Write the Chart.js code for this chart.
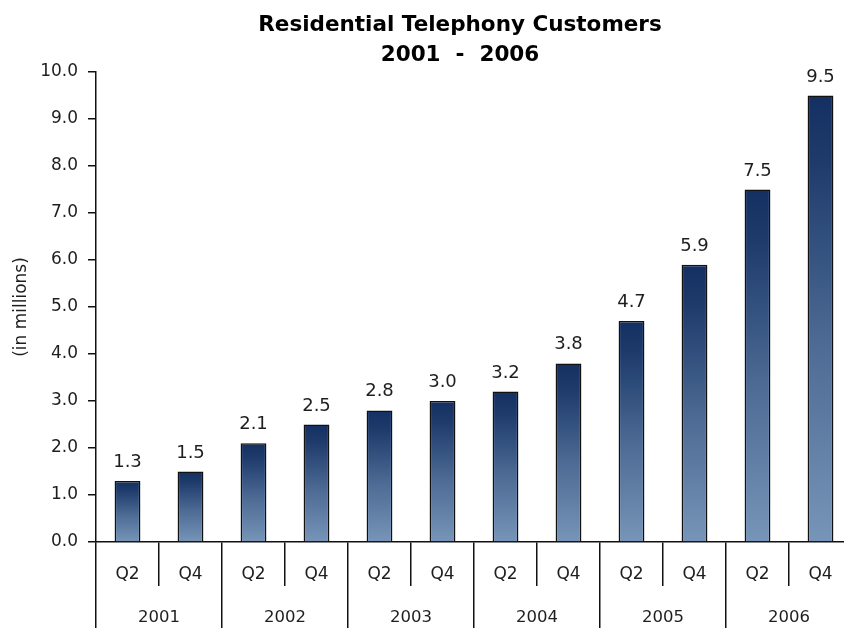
<!DOCTYPE html>
<html>
<head>
<meta charset="utf-8">
<title>Residential Telephony Customers</title>
<script src="https://cdn.jsdelivr.net/npm/chart.js@4.4.1/dist/chart.umd.min.js"></script>
<style>
  html, body { margin: 0; padding: 0; background: #fff; overflow: hidden; }
  #wrap { width: 844px; height: 628px; overflow: hidden; }
</style>
</head>
<body>
<div id="wrap"><canvas id="customersChart" width="852" height="628"></canvas></div>
<script>
const quarters = ['Q2', 'Q4', 'Q2', 'Q4', 'Q2', 'Q4', 'Q2', 'Q4', 'Q2', 'Q4', 'Q2', 'Q4'];
const years = ['2001', '2002', '2003', '2004', '2005', '2006'];
const customers = [1.3, 1.5, 2.1, 2.5, 2.8, 3.0, 3.2, 3.8, 4.7, 5.9, 7.5, 9.5];
const titleLines = ['Residential Telephony Customers', '2001  -  2006'];

const FONT = "'DejaVu Sans', sans-serif";
const INK = '#1e1e1e';

// each bar fades from navy at its top to steel blue at the baseline
function barGradient(context) {
    const chart = context.chart;
    if (!chart.chartArea) return '#3d5b86';
    const y = chart.scales.y;
    const top = y.getPixelForValue(context.raw);
    const bottom = y.getPixelForValue(0);
    const g = chart.ctx.createLinearGradient(0, top, 0, bottom);
    g.addColorStop(0, '#143062');
    g.addColorStop(0.15, '#1e3b6c');
    g.addColorStop(0.55, '#4c6a93');
    g.addColorStop(1, '#7795b8');
    return g;
}

const headingPlugin = {
    id: 'heading',
    afterDraw(chart) {
        const ctx = chart.ctx;
        ctx.save();
        ctx.fillStyle = '#000';
        ctx.font = "bold 21.5px 'DejaVu Sans', sans-serif";
        ctx.textAlign = 'center';
        ctx.textBaseline = 'alphabetic';
        ctx.fillText(titleLines[0], 460, 31);
        ctx.fillText(titleLines[1], 460, 61);
        ctx.restore();
    }
};

const valueLabels = {
    id: 'valueLabels',
    afterDatasetsDraw(chart) {
        const ctx = chart.ctx;
        const meta = chart.getDatasetMeta(0);
        ctx.save();
        ctx.fillStyle = INK;
        ctx.font = "18px 'DejaVu Sans', sans-serif";
        ctx.textAlign = 'center';
        ctx.textBaseline = 'alphabetic';
        meta.data.forEach((bar, i) => {
            ctx.fillText(customers[i].toFixed(1), bar.x, bar.y - 14);
        });
        ctx.restore();
    }
};

new Chart(document.getElementById('customersChart'), {
    type: 'bar',
    data: {
        labels: quarters,
        datasets: [{
            data: customers,
            backgroundColor: barGradient,
            borderColor: '#111',
            borderWidth: 1.5,
            categoryPercentage: 1,
            barPercentage: 0.41
        }]
    },
    options: {
        responsive: false,
        animation: false,
        layout: { padding: { top: 72, right: 0, bottom: 0, left: 0 } },
        plugins: {
            legend: { display: false },
            tooltip: { enabled: false }
        },
        scales: {
            x: {
                type: 'category',
                offset: true,
                grid: { offset: true, drawOnChartArea: false, tickLength: 44, color: '#111', lineWidth: 1.5 },
                border: { color: '#111', width: 1.5 },
                ticks: { color: INK, font: { family: FONT, size: 17 }, padding: -22, maxRotation: 0, autoSkip: false },
                afterFit(scale) { scale.height = 44; }
            },
            x2: {
                type: 'category',
                labels: years,
                position: 'bottom',
                offset: true,
                grid: { offset: true, drawOnChartArea: false, tickLength: 42, color: '#111', lineWidth: 1.5 },
                border: { display: false },
                ticks: { color: INK, font: { family: FONT, size: 16.5 }, padding: -20, maxRotation: 0, autoSkip: false },
                afterFit(scale) { scale.height = 42; }
            },
            y: {
                min: 0,
                max: 10,
                ticks: {
                    stepSize: 1,
                    color: INK,
                    font: { family: FONT, size: 17 },
                    padding: 10,
                    callback: v => v.toFixed(1)
                },
                grid: { drawOnChartArea: false, tickLength: 8, color: '#111', lineWidth: 1.5 },
                border: { color: '#111', width: 1.5 },
                title: {
                    display: true,
                    text: '(in millions)',
                    color: INK,
                    font: { family: FONT, size: 17 },
                    padding: { top: 11, bottom: 0 }
                },
                afterFit(scale) { scale.width = 96; }
            }
        }
    },
    plugins: [headingPlugin, valueLabels]
});
</script>
</body>
</html>
